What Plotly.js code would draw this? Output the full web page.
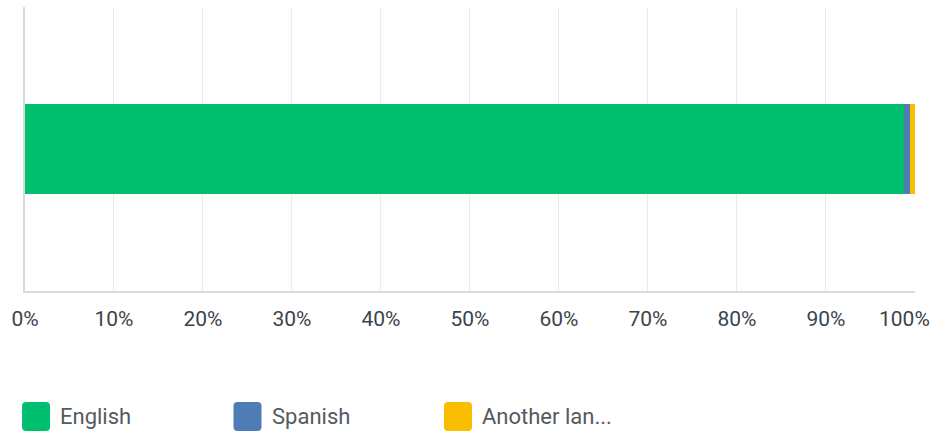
<!DOCTYPE html>
<html>
<head>
<meta charset="utf-8">
<script src="https://cdn.plot.ly/plotly-3.0.1.min.js"></script>
<style>html,body{margin:0;padding:0;background:#fff;}#chart{width:937px;height:434px;}</style>
</head>
<body>
<div id="chart"></div>
<script>
const category = ['Language'];
const seriesNames = ['English', 'Spanish', 'Another lan...'];
const seriesValues = [98.8, 0.65, 0.55];
const seriesColors = ['#00bf6f', '#507cb6', '#f9be00'];
const tickValues = [0,10,20,30,40,50,60,70,80,90,100];
const tickLabels = ['0%','10%','20%','30%','40%','50%','60%','70%','80%','90%','100%'];

const traces = seriesNames.map((n, i) => ({
  type: 'bar', orientation: 'h', name: n,
  x: [seriesValues[i]], y: category,
  marker: {color: seriesColors[i], line: {width: 0}},
  hoverinfo: 'none', showlegend: false
}));

const tickFont = {family: 'Roboto, sans-serif', size: 21, color: '#3b444c'};
const lastIdx = tickLabels.length - 1;
// the last label is drawn as an annotation nudged left so it stays inside the page
const shownTickText = tickLabels.map((t, i) => i === lastIdx ? '' : t);

// custom legend: rounded squares + labels
const legendX = [0.0124, 0.25, 0.4865];
const legendY = -0.442;
const shapes = [];
const annotations = [{
  xref: 'x', yref: 'paper', x: tickValues[lastIdx], y: 0,
  xanchor: 'center', yanchor: 'middle', xshift: -10, yshift: -28,
  showarrow: false, text: tickLabels[lastIdx], font: tickFont
}];
seriesNames.forEach((n, i) => {
  const r = 4, w = 14, h = 14.5;
  const path = `M ${-w+r} ${-h} L ${w-r} ${-h} Q ${w} ${-h} ${w} ${-h+r} L ${w} ${h-r} Q ${w} ${h} ${w-r} ${h} L ${-w+r} ${h} Q ${-w} ${h} ${-w} ${h-r} L ${-w} ${-h+r} Q ${-w} ${-h} ${-w+r} ${-h} Z`;
  shapes.push({
    type: 'path', xref: 'paper', yref: 'paper',
    xsizemode: 'pixel', ysizemode: 'pixel',
    xanchor: legendX[i], yanchor: legendY,
    path: path, fillcolor: seriesColors[i], line: {width: 0}
  });
  annotations.push({
    xref: 'paper', yref: 'paper', x: legendX[i], y: legendY,
    xshift: 22, xanchor: 'left', yanchor: 'middle', showarrow: false,
    text: n, font: {family: 'Roboto, sans-serif', size: 22, color: '#545a60'}
  });
});

const layout = {
  width: 937, height: 434,
  margin: {l: 25, r: 22, t: 7, b: 143},
  paper_bgcolor: '#ffffff', plot_bgcolor: '#ffffff',
  barmode: 'stack', bargap: 0.683,
  showlegend: false,
  xaxis: {
    range: [0, 100.01], tickvals: tickValues, ticktext: shownTickText,
    showgrid: true, gridcolor: '#ebebeb', gridwidth: 1,
    showline: true, linecolor: '#d9d9d9', linewidth: 2,
    zeroline: false, ticks: '', ticklabelstandoff: 8,
    tickfont: tickFont,
    fixedrange: true
  },
  yaxis: {
    showticklabels: false, showgrid: false, zeroline: false,
    showline: true, linecolor: '#d9d9d9', linewidth: 2,
    fixedrange: true
  },
  shapes: shapes,
  annotations: annotations
};

Plotly.newPlot('chart', traces, layout, {displayModeBar: false, staticPlot: true});
</script>
</body>
</html>
